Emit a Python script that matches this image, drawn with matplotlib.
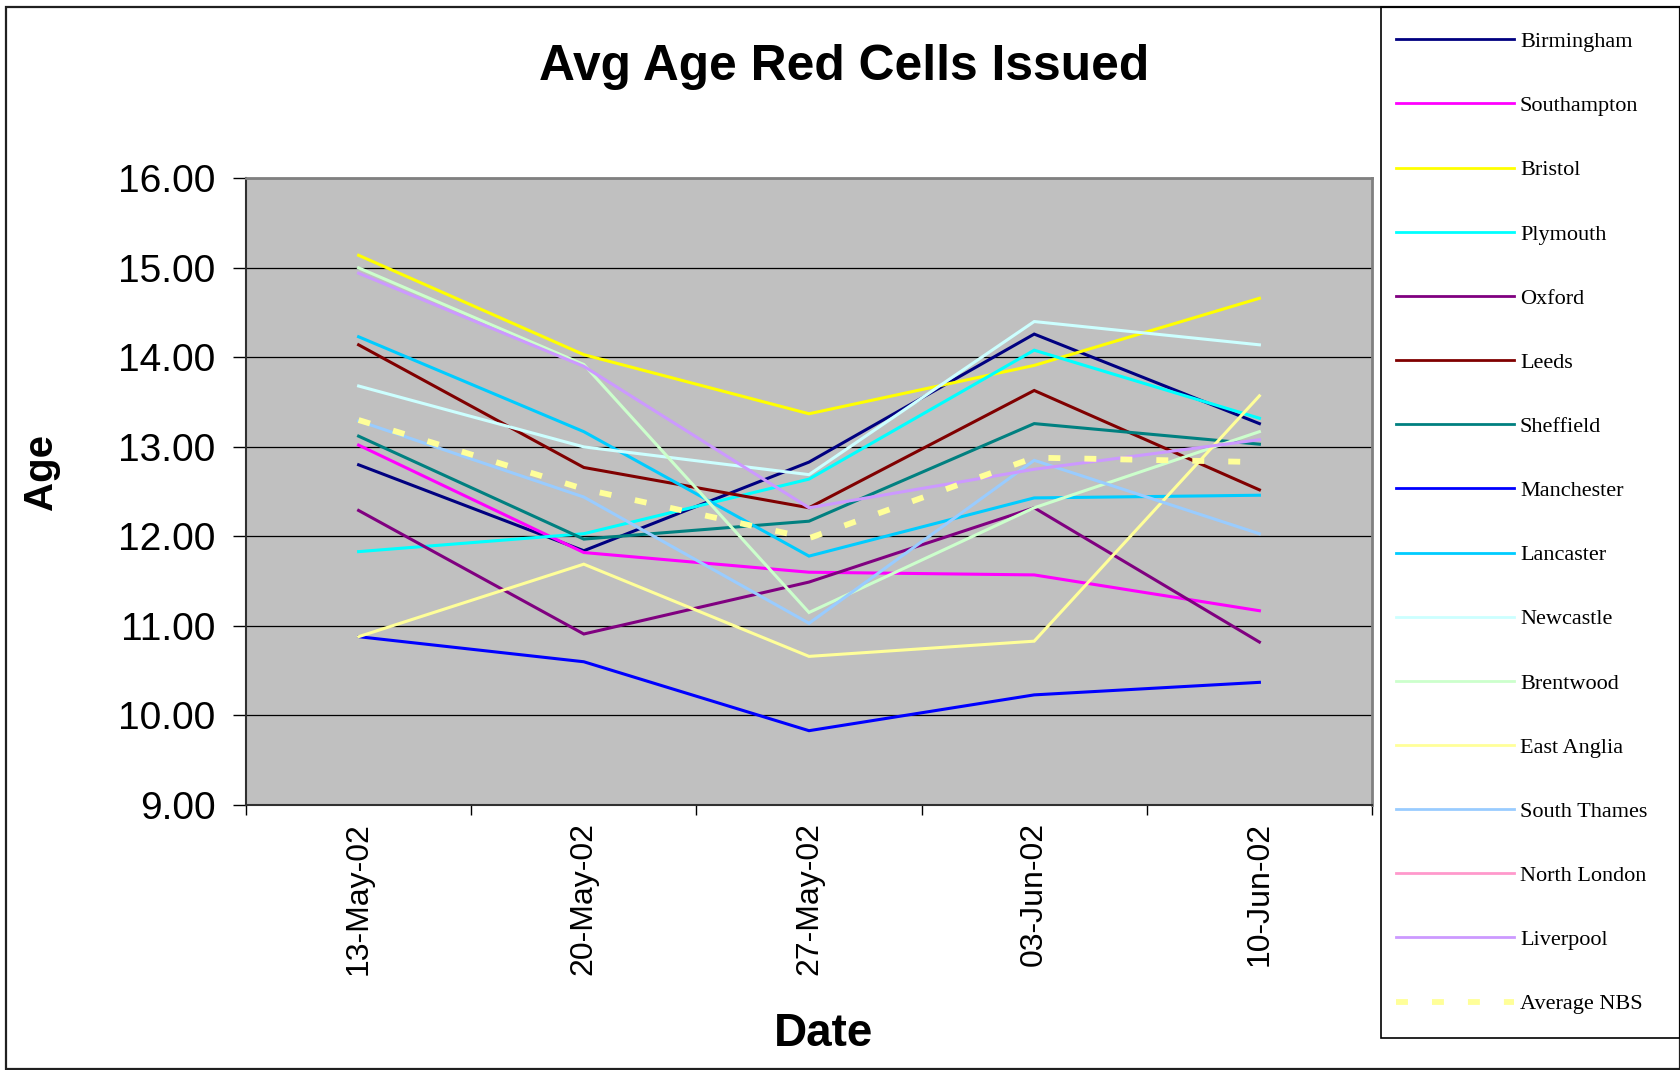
import numpy as np
import matplotlib
matplotlib.use("Agg")
import matplotlib.pyplot as plt
from matplotlib.patches import Rectangle

dates = ["13-May-02", "20-May-02", "27-May-02", "03-Jun-02", "10-Jun-02"]

birmingham   = [12.80, 11.84, 12.83, 14.26, 13.26]
southampton  = [13.02, 11.82, 11.60, 11.57, 11.17]
bristol      = [15.14, 14.03, 13.37, 13.91, 14.66]
plymouth     = [11.83, 12.03, 12.64, 14.08, 13.32]
oxford       = [12.29, 10.91, 11.49, 12.32, 10.82]
leeds        = [14.14, 12.77, 12.32, 13.63, 12.52]
sheffield    = [13.12, 11.97, 12.17, 13.26, 13.03]
manchester   = [10.88, 10.60, 9.83, 10.23, 10.37]
lancaster    = [14.23, 13.17, 11.78, 12.43, 12.46]
newcastle    = [13.68, 13.00, 12.69, 14.40, 14.14]
brentwood    = [15.00, 13.92, 11.15, 12.32, 13.17]
east_anglia  = [10.88, 11.69, 10.66, 10.83, 13.57]
south_thames = [13.29, 12.44, 11.03, 12.85, 12.03]
north_london = [np.nan, np.nan, np.nan, np.nan, np.nan]
liverpool    = [14.94, 13.90, 12.32, 12.75, 13.08]
average_nbs  = [13.30, 12.53, 11.98, 12.88, 12.83]

series_names = ["Birmingham", "Southampton", "Bristol", "Plymouth", "Oxford",
                "Leeds", "Sheffield", "Manchester", "Lancaster", "Newcastle",
                "Brentwood", "East Anglia", "South Thames", "North London",
                "Liverpool"]
series_values = [birmingham, southampton, bristol, plymouth, oxford, leeds,
                 sheffield, manchester, lancaster, newcastle, brentwood,
                 east_anglia, south_thames, north_london, liverpool]
colors = ["#000080", "#FF00FF", "#FFFF00", "#00FFFF", "#800080", "#800000",
          "#008080", "#0000FF", "#00CCFF", "#CCFFFF", "#CCFFCC", "#FFFF99",
          "#99CCFF", "#FF99CC", "#CC99FF"]
yticks = [9, 10, 11, 12, 13, 14, 15, 16]

plt.rcParams['lines.scale_dashes'] = False
sans = ["Liberation Sans", "DejaVu Sans"]
serif = ["Liberation Serif", "DejaVu Serif"]

W, H = 1681, 1070
fig = plt.figure(figsize=(W / 100, H / 100), dpi=100)
fig.patch.set_facecolor("white")

L, R, T, B = 246, 1372, 178.3, 805
ax = fig.add_axes([L / W, 1 - B / H, (R - L) / W, (B - T) / H])
ax.set_facecolor("#C0C0C0")

x = np.arange(len(dates))
handles = []
for name, vals, c in zip(series_names, series_values, colors):
    ln, = ax.plot(x, vals, color=c, lw=2.2, label=name, solid_joinstyle="miter")
    handles.append(ln)
avg, = ax.plot(x, average_nbs, color="#FFFF99", lw=4.2, label="Average NBS",
               dashes=(8.6, 17.3))
handles.append(avg)

ax.set_xlim(-0.5, len(dates) - 0.5)
ax.set_ylim(min(yticks), max(yticks))
ax.set_yticks(yticks)
ax.set_yticklabels([f"{v:.2f}" for v in yticks], fontsize=28, family=sans)
ax.yaxis.grid(True, color="black", lw=0.9)
ax.set_axisbelow(True)

ax.set_xticks(np.arange(-0.5, len(dates), 1.0))
ax.set_xticklabels([])
ax.set_xticks(x, minor=True)
ax.set_xticklabels(dates, minor=True, rotation=90, fontsize=23, family=sans,
                   va="top", ha="center")
ax.tick_params(axis="x", which="major", direction="out", length=7.5, width=1,
               color="black")
ax.tick_params(axis="x", which="minor", length=0, pad=12)
ax.tick_params(axis="y", direction="out", length=9.4, width=1, pad=12.5,
               color="black")

for side in ["left", "bottom"]:
    ax.spines[side].set_color("#303030")
    ax.spines[side].set_linewidth(1.5)
for side in ["top", "right"]:
    ax.spines[side].set_color("#808080")
    ax.spines[side].set_linewidth(2)

ax.set_title("Avg Age Red Cells Issued", fontsize=35.8, fontweight="bold",
             family=sans, x=(844 - L) / (R - L), y=(B - 75) / (B - T),
             va="center")
ax.set_ylabel("Age", fontsize=29, fontweight="bold", family=sans,
              ha="center", va="center")
ax.yaxis.set_label_coords((41 - L) / (R - L), (B - 472) / (B - T))
ax.set_xlabel("Date", fontsize=33, fontweight="bold", family=sans,
              ha="center", va="center")
ax.xaxis.set_label_coords((824 - L) / (R - L), (B - 1034) / (B - T))

# outer chart border and legend box
fig.patches.append(Rectangle((6 / W, 1 - 1069 / H), (1680 - 6) / W,
                             (1069 - 6.7) / H, transform=fig.transFigure,
                             fill=False, ec="#202020", lw=1.6))
fig.patches.append(Rectangle((1381 / W, 1 - 1038 / H), (1680 - 1381) / W,
                             (1038 - 6.7) / H, transform=fig.transFigure,
                             fill=False, ec="black", lw=1.2))

leg = fig.legend(handles=handles, loc="upper left",
                 bbox_to_anchor=(1396 / W, 1 - 31.5 / H),
                 frameon=False, prop={"family": serif, "size": 16},
                 handlelength=5.3, handletextpad=0.28, labelspacing=1.962,
                 borderpad=0, borderaxespad=0)
for ln in leg.get_lines():
    ln.set_linewidth(2)
leg.get_lines()[-1].set_linewidth(4.2)

fig.savefig("out.png", dpi=100)
